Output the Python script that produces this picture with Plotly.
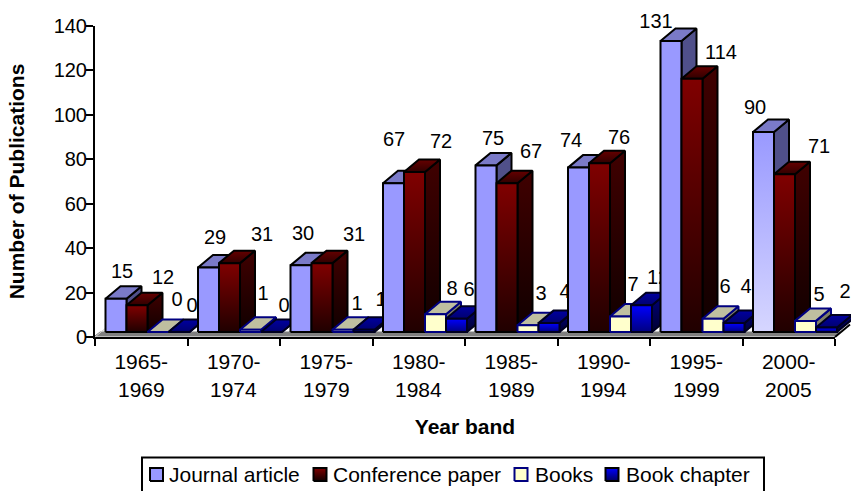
import plotly.graph_objects as go

# ---- data ----
bands_start = ["1965-", "1970-", "1975-", "1980-", "1985-", "1990-", "1995-", "2000-"]
bands_end = ["1969", "1974", "1979", "1984", "1989", "1994", "1999", "2005"]
journal_article = [15, 29, 30, 67, 75, 74, 131, 90]
conference_paper = [12, 31, 31, 72, 67, 76, 114, 71]
books = [0, 1, 1, 8, 3, 7, 6, 5]
book_chapter = [0, 0, 1, 6, 4, 12, 4, 2]
y_ticks = [0, 20, 40, 60, 80, 100, 120, 140]

series_names = ["Journal article", "Conference paper", "Books", "Book chapter"]
series_values = [journal_article, conference_paper, books, book_chapter]

# ---- data label offsets from the front-top centre of each bar, in pixels ----
label_dx = [[6, 6.5, 2, 0.5, 7, -7.5, -15, -8.5],
            [26, 32.5, 32, 26.5, 24, 19.5, 29, 34.5],
            [19, 12.5, 14, 16.5, 13, 12.5, 12, 13.5],
            [13, 12.5, 17, 12.5, 16, 16.5, 12, 18.5]]
label_dy = [[-25.7, -28.6, -30.4, -42.2, -25.4, -25.6, -18, -23.1],
            [-26.3, -27.1, -27.1, -29.1, -30.2, -24.2, -24.8, -26.3],
            [-31, -34.8, -24.8, -24.2, -30.3, -30.5, -30.7, -24.9],
            [-25, -25, -28.8, -27.7, -30.1, -26.3, -35.1, -34.6]]

# ---- layout geometry ----
W, H = 851, 491
L, R, T, B = 95, 835, 26, 337
YMAX = 140
XMAX = len(bands_start)
PX_X = (R - L) / XMAX      # pixels per category
PX_Y = (B - T) / YMAX      # pixels per publication
BASE = 5 / PX_Y            # bars stand a little above the axis line
DEPTH_X = 15 / PX_X
DEPTH_Y = 12.5 / PX_Y
BAR_W = 21 / PX_X
GROUP_LEFT = 10.5 / PX_X
FONT = "Liberation Sans, Arial, sans-serif"
NUM_SIZE = 20
XTICK_SIZE = 21
LEGEND_SIZE = 21
TITLE_SIZE = 21

styles = [
    dict(line="#000000", front=("#9999FF", "#9999FF"), top=("#7A7AC8", "#7A7AC8"), side=("#50508A", "#50508A")),
    dict(line="#000000", front=("#200000", "#800000"), top=("#300000", "#660000"), side=("#100000", "#400000")),
    dict(line="#000080", front=("#FFFFCC", "#FFFFCC"), top=("#BFBFA0", "#BFBFA0"), side=("#7F7F66", "#7F7F66")),
    dict(line="#000020", front=("#000080", "#0000FF"), top=("#000070", "#0000A0"), side=("#000030", "#000080")),
]
# the last journal-article bar fades towards a paler foot
journal_last_front = ("#D6D6FF", "#9999FF")


def px_x(p):
    return (p - L) / PX_X


def px_y(p):
    return (B - p) / PX_Y


def poly(fig, xs, ys, colors, line, width=2):
    lo, hi = min(ys), max(ys)
    fig.add_trace(go.Scatter(
        x=xs + xs[:1], y=ys + ys[:1], xaxis="x2", yaxis="y2", mode="lines", fill="toself",
        fillgradient=dict(type="vertical", start=lo, stop=hi if hi > lo else lo + 0.01,
                          colorscale=[[0, colors[0]], [1, colors[1]]]),
        line=dict(color=line, width=width), hoverinfo="skip", showlegend=False))


fig = go.Figure()

# invisible trace that keeps the visible axes (x, y) alive; the 3-D marks live on a
# full-page overlay (x2, y2) that shares their scale, so nothing past the axis ends is dropped
fig.add_trace(go.Scatter(x=[0, XMAX], y=[0, YMAX], mode="markers", marker=dict(opacity=0),
                         hoverinfo="skip", showlegend=False))

# floor strip in front of the bars
strip_low = 1 / PX_Y
fig.add_trace(go.Scatter(
    x=[0, XMAX, XMAX + 5 / PX_X, 5 / PX_X, 0], y=[strip_low, strip_low, BASE, BASE, strip_low],
    xaxis="x2", yaxis="y2", mode="lines", fill="toself",
    fillcolor="#808080", line=dict(color="#808080", width=1), hoverinfo="skip", showlegend=False))
# pale wall/floor edge on the left, dark edge on the right
fig.add_trace(go.Scatter(x=[0, DEPTH_X], y=[0, DEPTH_Y], xaxis="x2", yaxis="y2", mode="lines",
                         line=dict(color="#D0D0D0", width=1), hoverinfo="skip", showlegend=False))
fig.add_trace(go.Scatter(x=[XMAX, XMAX + DEPTH_X], y=[0, DEPTH_Y], xaxis="x2", yaxis="y2", mode="lines",
                         line=dict(color="#000000", width=2), hoverinfo="skip", showlegend=False))

# bars, group by group so that later bars cover earlier labels
for g in range(len(bands_start)):
    for s, values in enumerate(series_values):
        v = values[g]
        st = styles[s]
        x0 = g + GROUP_LEFT + s * BAR_W
        x1 = x0 + BAR_W
        y0 = BASE
        y1 = BASE + v
        # side face
        poly(fig, [x1, x1 + DEPTH_X, x1 + DEPTH_X, x1], [y0, y0 + DEPTH_Y, y1 + DEPTH_Y, y1], st["side"], st["line"])
        # top face
        poly(fig, [x0, x1, x1 + DEPTH_X, x0 + DEPTH_X], [y1, y1, y1 + DEPTH_Y, y1 + DEPTH_Y], st["top"], st["line"])
        # front face
        front = journal_last_front if (s == 0 and g == len(bands_start) - 1) else st["front"]
        poly(fig, [x0, x1, x1, x0], [y0, y0, y1, y1], front, st["line"])
        # data label
        fig.add_trace(go.Scatter(
            x=[(x0 + x1) / 2 + label_dx[s][g] / PX_X], y=[y1 - label_dy[s][g] / PX_Y],
            xaxis="x2", yaxis="y2", mode="text", text=[str(v)], textposition="middle center",
            textfont=dict(family=FONT, size=NUM_SIZE, color="#000000"),
            hoverinfo="skip", showlegend=False))

# ---- legend, drawn by hand so its frame can run off the bottom as in the original ----
swatch_x = [156.5, 320, 521, 612]
text_x = [166.5, 330.5, 532.5, 623.5]
swatch_line = ["#000000", "#000000", "#000080", "#000000"]
swatch_fill = [("#9999FF", "#9999FF"), ("#100000", "#800000"), ("#FFFFCC", "#FFFFCC"), ("#000060", "#0000FF")]
LEGEND_CY = 474.5
HALF = 6.5
for i in range(len(series_names)):
    xa, xb = px_x(swatch_x[i] - HALF), px_x(swatch_x[i] + HALF)
    ya, yb = px_y(LEGEND_CY + HALF), px_y(LEGEND_CY - HALF)
    poly(fig, [xa, xb, xb, xa], [ya, ya, yb, yb], swatch_fill[i], swatch_line[i])

annotations = [dict(x=text_x[i] / W, y=1 - 474 / H, xref="paper", yref="paper", xanchor="left",
                    yanchor="middle", text=n, showarrow=False,
                    font=dict(family=FONT, size=LEGEND_SIZE, color="#000000"))
               for i, n in enumerate(series_names)]
# second line of each band label, spaced as in the reference
for g, txt in enumerate(bands_end):
    annotations.append(dict(x=g + 0.5, y=1 - 389 / H, xref="x", yref="paper", yanchor="middle", text=txt,
                            showarrow=False, font=dict(family=FONT, size=XTICK_SIZE, color="#000000")))

shapes = [dict(type="rect", xref="paper", yref="paper",
               x0=142 / W, x1=764 / W, y0=1 - 500 / H, y1=1 - 457.5 / H,
               line=dict(color="#000000", width=2), fillcolor="rgba(0,0,0,0)")]

fig.update_layout(
    width=W, height=H, margin=dict(l=0, r=0, t=0, b=0, autoexpand=False),
    paper_bgcolor="#FFFFFF", plot_bgcolor="rgba(0,0,0,0)", showlegend=False,
    font=dict(family=FONT, color="#000000", size=NUM_SIZE),
    annotations=annotations, shapes=shapes,
    xaxis=dict(domain=[L / W, R / W], anchor="y", range=[0, XMAX], tickmode="array",
               tickvals=[g + 0.5 for g in range(XMAX)], ticktext=bands_start,
               ticks="", showgrid=False, zeroline=False, showline=True, linecolor="#000000", linewidth=2,
               tickfont=dict(family=FONT, size=XTICK_SIZE), ticklabelstandoff=5,
               minor=dict(tickmode="array", tickvals=list(range(XMAX + 1)), ticks="outside", ticklen=7, tickwidth=2,
                          tickcolor="#000000", showgrid=False),
               title=dict(text="<b>Year band</b>", font=dict(family=FONT, size=TITLE_SIZE), standoff=47)),
    yaxis=dict(domain=[1 - B / H, 1 - T / H], anchor="x", range=[0, YMAX], tickmode="array", tickvals=y_ticks,
               ticks="outside", ticklen=7, tickwidth=2,
               tickcolor="#000000", showgrid=False, zeroline=False, showline=True, linecolor="#000000", linewidth=2,
               tickfont=dict(family=FONT, size=NUM_SIZE), ticklabelstandoff=-5,
               title=dict(text="<b>Number of Publications</b>", font=dict(family=FONT, size=TITLE_SIZE), standoff=23)),
    xaxis2=dict(domain=[0, 1], anchor="y2", range=[px_x(0), px_x(W)], visible=False, fixedrange=True),
    yaxis2=dict(domain=[0, 1], anchor="x2", range=[px_y(H), px_y(0)], visible=False, fixedrange=True),
)

fig.write_html("out.html", config=dict(displayModeBar=False),
               post_script="document.body.style.margin='0';document.documentElement.style.overflow='hidden';")
